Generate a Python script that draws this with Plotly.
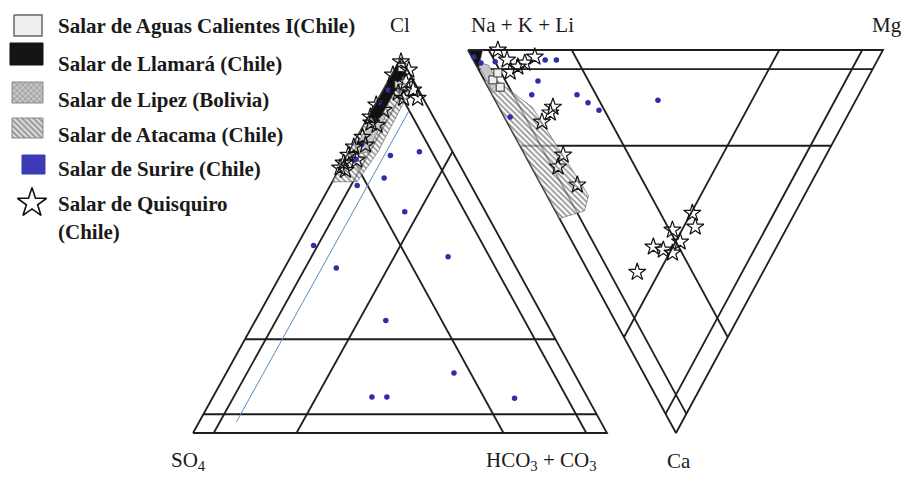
import plotly.graph_objects as go

# ---------------- data (percent) ----------------
# Anion triangle: Cl, HCO3+CO3 (SO4 = 100 - Cl - HCO3)
surire_an_cl = [74, 75, 68, 66, 59, 50, 44, 47, 30, 16, 9.6, 9.6, 9.3, 91.5, 88, 83.5, 77, 73]
surire_an_hco3 = [10.5, 17, 12, 6.5, 21.5, 4, 12.5, 38, 31.5, 55, 38.4, 42, 73, 1.2, 1.2, 2.3, 2.1, 2.7]

quis_an_cl = [99, 93.6, 91.5, 89.3, 89.3, 90.7, 87.5, 84.3, 82.7, 78.9, 76.3, 74.1, 72, 70.7, 70.1,
              72.8, 76.8, 82.1, 86.1, 95.5, 96.8]
quis_an_hco3 = [0.5, 4.4, 7.2, 9.4, 6, 4, 0.3, 0.5, 1.5, 1.3, 0.5, 0.3, 0.2, 0, 1.6,
                3, 3.1, 3.2, 2.8, 0.3, 3.5]

aguas_an_cl = [97.5, 93, 92]
aguas_an_hco3 = [1.5, 3, 4.5]

# Cation triangle: Ca, Mg (Na+K+Li = 100 - Ca - Mg)
surire_cat_ca = [2.6, 2.6, 8.1, 11.7, 11.7, 13.8, 15.7, 13.1, 17.5, 1.8, 3.4, 3.1]
surire_cat_mg = [17.3, 20, 12.8, 9.5, 20.4, 22, 23.7, 39.2, 1.4, 0.5, 1.4, 5]

quis_cat_ca = [0, 2.6, 4.4, 3.4, 1.8, 5.7, 14.9, 16.4, 18.8, 27.4, 30.5, 35.2,
               42.6, 46.2, 47, 50.1, 51.4, 52.2, 53, 58]
quis_cat_mg = [7.2, 8.1, 9.8, 12, 15.2, 7.3, 13, 11.6, 8.4, 9.2, 6.4, 8.7,
               32.7, 31.6, 25.7, 26, 18.9, 20.9, 22.7, 11.7]

aguas_cat_ca = [7.8, 9.7, 6]
aguas_cat_mg = [2.1, 2.9, 4.2]

# Field outlines (percent)
atacama_an_cl = [94, 67, 67, 75, 92]
atacama_an_hco3 = [0, 0, 6, 7, 6.5]
llamara_an_cl = [99.5, 84, 84, 97]
llamara_an_hco3 = [0, 0, 3, 3]
lipez_an_cl = [84, 74, 75, 85]
lipez_an_hco3 = [1, 1, 4.5, 4]

atacama_cat_ca = [8, 44, 42, 38, 15, 8]
atacama_cat_mg = [0, 0, 7, 10, 8, 3]
llamara_cat_ca = [0, 0, 5]
llamara_cat_mg = [0, 3.5, 0]
lipez_cat_ca = [3, 11, 10, 4]
lipez_cat_mg = [0.5, 0.5, 3, 3]

# reference line (HCO3 = 9 %)
blue_line_cl = [3, 86]
blue_line_hco3 = [9, 9]

grid_levels = [5, 25]

legend_labels = ["Salar de Aguas Calientes I(Chile)", "Salar de Llamará (Chile)",
                 "Salar de Lipez (Bolivia)", "Salar de Atacama (Chile)",
                 "Salar de Surire (Chile)", "Salar de Quisquiro", "(Chile)"]

# ---------------- geometry ----------------
AN = {"SO4": (193, 433), "HCO3": (607, 433), "Cl": (401, 58)}
CAT = {"Na": (468, 50), "Mg": (883, 50), "Ca": (676, 433)}


def proj(corners, keys, fracs_list):
    xs, ys = [], []
    for fr in fracs_list:
        x = sum(f / 100 * corners[k][0] for k, f in zip(keys, fr))
        y = sum(f / 100 * corners[k][1] for k, f in zip(keys, fr))
        xs.append(x)
        ys.append(y)
    return xs, ys


def an_xy(cl, hco3):
    return proj(AN, ["Cl", "HCO3", "SO4"], [(c, h, 100 - c - h) for c, h in zip(cl, hco3)])


def cat_xy(ca, mg):
    return proj(CAT, ["Ca", "Mg", "Na"], [(c, m, 100 - c - m) for c, m in zip(ca, mg)])


fig = go.Figure()
LINE = dict(color="#1e1e1e", width=1.8)


def grid(corners, keys):
    xs, ys = [], []
    ex, ey = proj(corners, keys, [(100, 0, 0), (0, 100, 0), (0, 0, 100), (100, 0, 0)])
    xs += ex + [None]
    ys += ey + [None]
    for i in range(3):
        j, k = (i + 1) % 3, (i + 2) % 3
        for v in grid_levels:
            a = [0, 0, 0]
            b = [0, 0, 0]
            a[i] = v; a[j] = 100 - v
            b[i] = v; b[k] = 100 - v
            lx, ly = proj(corners, keys, [tuple(a), tuple(b)])
            xs += lx + [None]
            ys += ly + [None]
    fig.add_trace(go.Scatter(x=xs, y=ys, mode="lines", line=LINE, hoverinfo="skip", showlegend=False))


grid(AN, ["SO4", "HCO3", "Cl"])
grid(CAT, ["Na", "Mg", "Ca"])

bx, by = an_xy(blue_line_cl, blue_line_hco3)
fig.add_trace(go.Scatter(x=bx, y=by, mode="lines", line=dict(color="#5b8cc0", width=1), showlegend=False))

HATCH = dict(shape="\\", fgcolor="#2a2a2a", bgcolor="rgba(255,255,255,0.6)", size=4, solidity=0.45)
GREYPAT = dict(shape="x", fgcolor="#8a8a8a", bgcolor="#d0d0d0", size=3, solidity=0.35)


def region(xy, pattern=None, color=None):
    x, y = xy
    kw = dict(x=x + [x[0]], y=y + [y[0]], mode="lines", fill="toself",
              line=dict(color="#555555", width=0.6), showlegend=False, hoverinfo="skip")
    if pattern is not None:
        kw["fillpattern"] = pattern
        kw["fillcolor"] = "rgba(0,0,0,0)"
    else:
        kw["fillcolor"] = color
    fig.add_trace(go.Scatter(**kw))


region(an_xy(atacama_an_cl, atacama_an_hco3), HATCH)
region(cat_xy(atacama_cat_ca, atacama_cat_mg), HATCH)
region(an_xy(lipez_an_cl, lipez_an_hco3), GREYPAT)
region(cat_xy(lipez_cat_ca, lipez_cat_mg), GREYPAT)
region(an_xy(llamara_an_cl, llamara_an_hco3), color="#111111")
region(cat_xy(llamara_cat_ca, llamara_cat_mg), color="#111111")

BLUE = "#2e2ea6"
for xy in (an_xy(surire_an_cl, surire_an_hco3), cat_xy(surire_cat_ca, surire_cat_mg)):
    fig.add_trace(go.Scatter(x=xy[0], y=xy[1], mode="markers", showlegend=False,
                             marker=dict(symbol="circle", size=5.5, color=BLUE)))
for xy in (an_xy(aguas_an_cl, aguas_an_hco3), cat_xy(aguas_cat_ca, aguas_cat_mg)):
    fig.add_trace(go.Scatter(x=xy[0], y=xy[1], mode="markers", showlegend=False,
                             marker=dict(symbol="square", size=8, color="#eeeeee",
                                         line=dict(color="#333333", width=1))))
for xy in (an_xy(quis_an_cl, quis_an_hco3), cat_xy(quis_cat_ca, quis_cat_mg)):
    fig.add_trace(go.Scatter(x=xy[0], y=xy[1], mode="markers", showlegend=False,
                             marker=dict(symbol="star-open", size=13, color="#111111",
                                         line=dict(width=1.2))))

# ---------------- legend (drawn) ----------------
def box(x0, y0, x1, y1, **kw):
    fig.add_trace(go.Scatter(x=[x0, x1, x1, x0, x0], y=[y0, y0, y1, y1, y0], mode="lines",
                             fill="toself", showlegend=False, hoverinfo="skip", **kw))


box(14, 15, 42, 36, line=dict(color="#666666", width=1.5), fillcolor="#eeeeee")
box(10, 43, 43, 65, line=dict(color="#111111", width=1), fillcolor="#141414")
box(12, 82, 43, 103, line=dict(color="#888888", width=1), fillcolor="rgba(0,0,0,0)",
    fillpattern=dict(shape="x", fgcolor="#6f6f6f", bgcolor="#c4c4c4", size=4, solidity=0.4))
box(12, 118, 43, 138, line=dict(color="#888888", width=1), fillcolor="rgba(0,0,0,0)",
    fillpattern=dict(shape="\\", fgcolor="#444444", bgcolor="#dddddd", size=4, solidity=0.45))
box(22, 155, 45, 174, line=dict(color="#3b3bb5", width=1), fillcolor="#3b3bb5")
fig.add_trace(go.Scatter(x=[32], y=[203], mode="markers", showlegend=False,
                         marker=dict(symbol="star-open", size=22, color="#111111", line=dict(width=1.6))))

SERIF = "Liberation Serif"
legend_y = [26, 64, 100, 135, 169, 204, 232]
for lab, yy in zip(legend_labels, legend_y):
    fig.add_annotation(x=56, y=yy, xref="x", yref="y", text="<b>" + lab + "</b>", showarrow=False,
                       xanchor="left", yanchor="middle", font=dict(family=SERIF, size=21, color="#1a1a1a"))

labels = [("Cl", 400, 25, "center"), ("Na + K + Li", 469, 25, "left"), ("Mg", 887, 25, "center"),
          ("SO<sub>4</sub>", 169, 461, "left"), ("HCO<sub>3</sub> + CO<sub>3</sub>", 484, 461, "left"),
          ("Ca", 679, 461, "center")]
for t, x, y, xa in labels:
    fig.add_annotation(x=x, y=y, xref="x", yref="y", text=t, showarrow=False, xanchor=xa,
                       yanchor="middle", font=dict(family=SERIF, size=21, color="#1a1a1a"))

fig.update_layout(width=906, height=477, autosize=False, margin=dict(l=0, r=0, t=0, b=0),
                  paper_bgcolor="white", plot_bgcolor="white", showlegend=False,
                  xaxis=dict(range=[0, 906], visible=False, fixedrange=True),
                  yaxis=dict(range=[477, 0], visible=False, fixedrange=True))
fig.write_html("out.html", config={"displayModeBar": False},
               post_script="document.body.style.margin='0';document.body.style.padding='0';"
                           "document.body.style.overflow='hidden';")
